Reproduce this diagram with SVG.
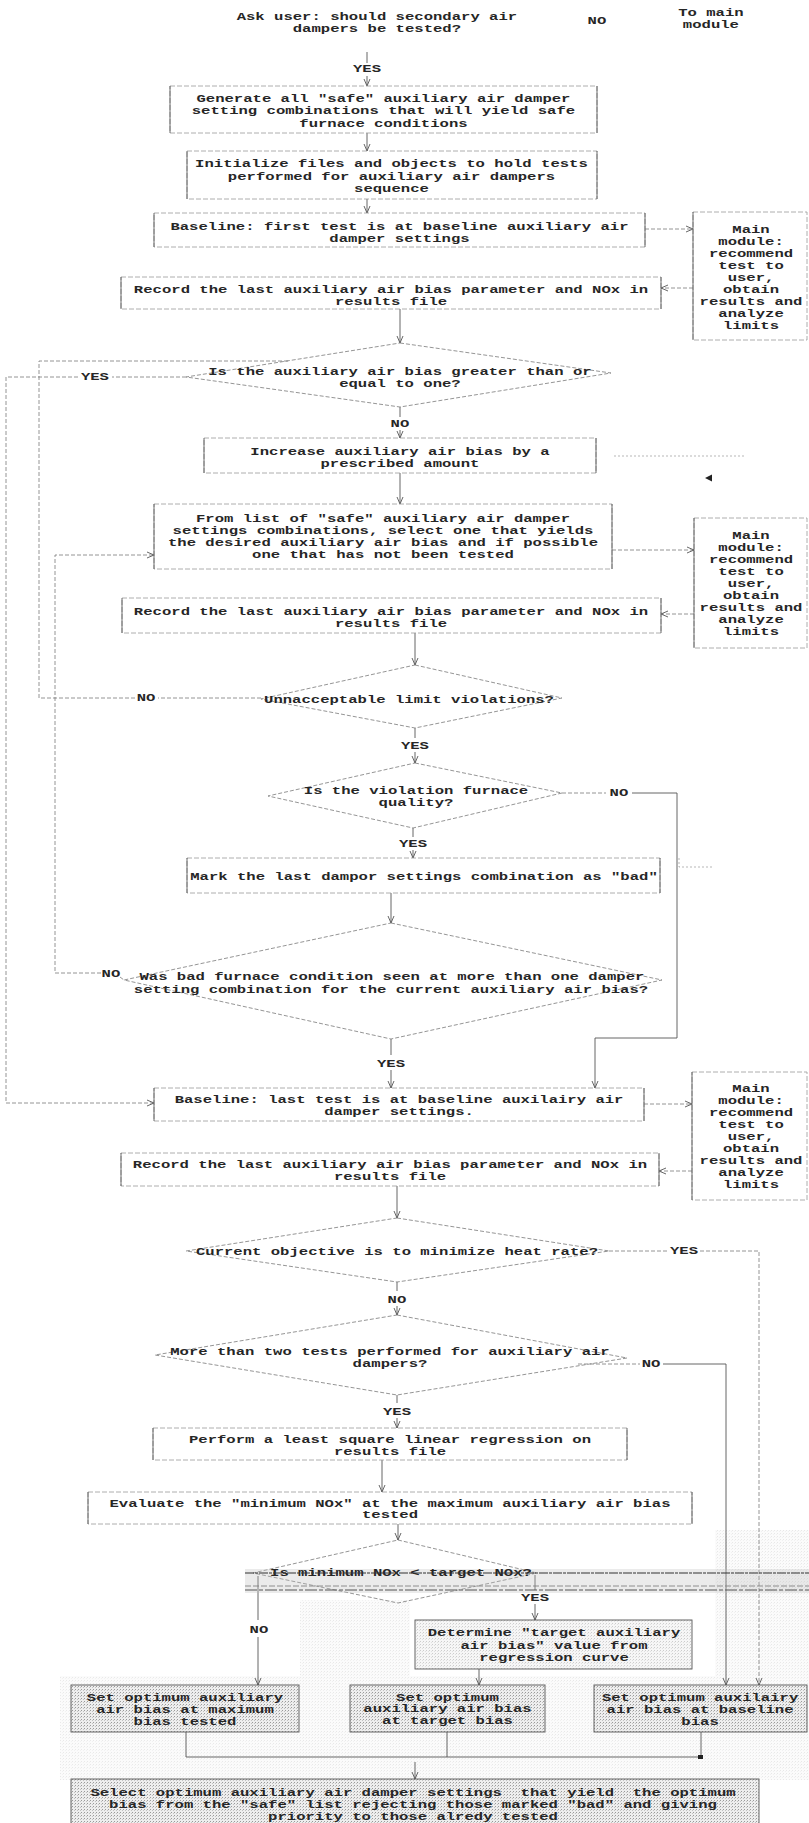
<svg xmlns="http://www.w3.org/2000/svg" width="809" height="1823" viewBox="0 0 809 1823">
<defs>
  <style>
    .t { font-family: "Liberation Mono", "Courier New", monospace; font-size: 10.5px; font-weight: bold; fill: #262626; text-anchor: middle; }
    .bx { fill: #ffffff; stroke: #9a9a9a; stroke-width: 0.8; stroke-dasharray: 5 2; }
    .sd { stroke: #5a5a5a; stroke-width: 0.9; fill: none; }
    .dm { fill: none; stroke: #7a7a7a; stroke-width: 0.8; stroke-dasharray: 4 2; }
    .cv { fill: none; stroke: #555555; stroke-width: 0.9; }
    .ch { fill: none; stroke: #7a7a7a; stroke-width: 0.8; stroke-dasharray: 4 2; }
    .gb { fill: url(#stip); stroke: #555555; stroke-width: 0.9; }
    .nz { fill: none; stroke: #9a9a9a; stroke-width: 0.7; stroke-dasharray: 2 2; }
  </style>
  <marker id="ah" markerWidth="9" markerHeight="8" refX="8" refY="4" orient="auto" markerUnits="userSpaceOnUse">
    <path d="M1,1 L8,4 L1,7" fill="none" stroke="#555" stroke-width="0.9"/>
  </marker>
  <pattern id="stip" width="3" height="3" patternUnits="userSpaceOnUse">
    <rect width="3" height="3" fill="#eeeeee"/>
    <rect x="0" y="0" width="1" height="1" fill="#9a9a9a"/>
    <rect x="2" y="1" width="1" height="1" fill="#c2c2c2"/>
  </pattern>
</defs>

<rect width="809" height="1823" fill="#ffffff"/>

<!-- halftone shading around the lower part of the chart -->
<g id="shading" opacity="0.22">
  <rect x="60" y="1676" width="749" height="104" fill="url(#stip)"/>
  <rect x="715" y="1530" width="94" height="146" fill="url(#stip)"/>
  <rect x="300" y="1600" width="110" height="76" fill="url(#stip)"/>
</g>

<!-- connectors -->
<g id="connectors">
  <!-- top question -> generate -->
  <line class="cv" x1="367" y1="52" x2="367" y2="63"/>
  <line class="cv" x1="367" y1="76" x2="367" y2="86" marker-end="url(#ah)"/>
  <line class="cv" x1="367" y1="133" x2="367" y2="151" marker-end="url(#ah)"/>
  <line class="cv" x1="367" y1="199" x2="367" y2="213" marker-end="url(#ah)"/>
  <!-- baseline -> main module -> record -->
  <line class="ch" x1="645" y1="229" x2="693" y2="229" marker-end="url(#ah)"/>
  <line class="ch" x1="693" y1="288" x2="661" y2="288" marker-end="url(#ah)"/>
  <line class="cv" x1="400" y1="309" x2="400" y2="343" marker-end="url(#ah)"/>
  <!-- bias >= 1 : YES loop to final baseline -->
  <polyline class="ch" points="186,377 112,377"/>
  <polyline class="ch" points="78,377 6,377 6,1103 154,1103" marker-end="url(#ah)"/>
  <!-- NO -->
  <line class="cv" x1="400" y1="407" x2="400" y2="417"/>
  <line class="cv" x1="400" y1="430" x2="400" y2="438" marker-end="url(#ah)"/>
  <line class="cv" x1="400" y1="473" x2="400" y2="504" marker-end="url(#ah)"/>
  <!-- select combination -> main module -> record -->
  <line class="ch" x1="612" y1="550" x2="694" y2="550" marker-end="url(#ah)"/>
  <line class="ch" x1="694" y1="614" x2="661" y2="614" marker-end="url(#ah)"/>
  <line class="cv" x1="415" y1="633" x2="415" y2="665" marker-end="url(#ah)"/>
  <!-- unacceptable violations : NO loop back to bias test -->
  <polyline class="ch" points="261,698 158,698"/>
  <polyline class="ch" points="135,698 39,698 39,361 289,361"/>
  <!-- YES -->
  <line class="cv" x1="415" y1="728" x2="415" y2="738"/>
  <line class="cv" x1="415" y1="752" x2="415" y2="763" marker-end="url(#ah)"/>
  <!-- furnace quality : NO -->
  <line class="ch" x1="562" y1="793" x2="606" y2="793"/>
  <polyline class="cv" points="632,793 677,793 677,1038 595,1038 595,1088" marker-end="url(#ah)"/>
  <!-- YES -->
  <line class="cv" x1="413" y1="828" x2="413" y2="837"/>
  <line class="cv" x1="413" y1="850" x2="413" y2="858" marker-end="url(#ah)"/>
  <line class="cv" x1="391" y1="893" x2="391" y2="923" marker-end="url(#ah)"/>
  <!-- bad condition seen more than once : NO loop -->
  <polyline class="ch" points="101,973 55,973 55,555 154,555" marker-end="url(#ah)"/>
  <line class="ch" x1="120" y1="977" x2="124" y2="980"/>
  <!-- YES -->
  <line class="cv" x1="391" y1="1039" x2="391" y2="1055"/>
  <line class="cv" x1="391" y1="1070" x2="391" y2="1088" marker-end="url(#ah)"/>
  <!-- last baseline -> main module -> record -->
  <line class="ch" x1="644" y1="1104" x2="692" y2="1104" marker-end="url(#ah)"/>
  <line class="ch" x1="692" y1="1171" x2="659" y2="1171" marker-end="url(#ah)"/>
  <line class="cv" x1="397" y1="1186" x2="397" y2="1218" marker-end="url(#ah)"/>
  <!-- heat rate objective : YES -->
  <line class="ch" x1="609" y1="1251" x2="668" y2="1251"/>
  <polyline class="ch" points="700,1251 759,1251 759,1685" marker-end="url(#ah)"/>
  <!-- NO -->
  <line class="cv" x1="397" y1="1282" x2="397" y2="1291"/>
  <line class="cv" x1="397" y1="1306" x2="397" y2="1315" marker-end="url(#ah)"/>
  <!-- more than two tests : NO -->
  <line class="ch" x1="578" y1="1364" x2="640" y2="1364"/>
  <polyline class="cv" points="663,1364 726,1364 726,1685" marker-end="url(#ah)"/>
  <!-- YES -->
  <line class="cv" x1="397" y1="1395" x2="397" y2="1403"/>
  <line class="cv" x1="397" y1="1418" x2="397" y2="1428" marker-end="url(#ah)"/>
  <line class="cv" x1="382" y1="1460" x2="382" y2="1492" marker-end="url(#ah)"/>
  <line class="cv" x1="398" y1="1524" x2="398" y2="1540" marker-end="url(#ah)"/>
  <!-- minimum NOx test : NO / YES -->
  <line class="cv" x1="258" y1="1576" x2="258" y2="1620"/>
  <line class="cv" x1="258" y1="1637" x2="258" y2="1685" marker-end="url(#ah)"/>
  <line class="cv" x1="535" y1="1575" x2="535" y2="1590"/>
  <line class="cv" x1="535" y1="1604" x2="535" y2="1620" marker-end="url(#ah)"/>
  <line class="cv" x1="479" y1="1669" x2="479" y2="1685" marker-end="url(#ah)"/>
  <!-- merge of the three optimum settings -->
  <polyline class="cv" points="186,1732 186,1757 701,1757"/>
  <line class="cv" x1="447" y1="1732" x2="447" y2="1757"/>
  <line class="cv" x1="701" y1="1732" x2="701" y2="1757"/>
  <rect x="698" y="1755" width="5" height="4" fill="#222"/>
  <line class="cv" x1="415" y1="1762" x2="415" y2="1779" marker-end="url(#ah)"/>
</g>

<!-- stray marks -->
<g id="marks">
  <line class="nz" x1="614" y1="456" x2="744" y2="456"/>
  <polygon points="705,478 712,474.5 712,481.5" fill="#222"/>
  <polyline class="nz" points="679,858 679,867 712,867"/>
</g>

<g id="ask-user">
  <text class="t" transform="scale(1.4857 1)" x="253.7" y="20">Ask user: should secondary air</text>
  <text class="t" transform="scale(1.4857 1)" x="253.7" y="32">dampers be tested?</text>
  <text class="t" transform="scale(1.4857 1)" x="401.8" y="24">NO</text>
  <text class="t" transform="scale(1.4857 1)" x="247.0" y="72">YES</text>
</g>

<g id="to-main-module">
  <text class="t" transform="scale(1.4857 1)" x="478.5" y="16">To main</text>
  <text class="t" transform="scale(1.4857 1)" x="478.5" y="28">module</text>
</g>

<g id="generate-combinations">
  <rect class="bx" x="170" y="86" width="427" height="47"/>
  <path class="sd" d="M170,86 V133 M597,86 V133"/>
  <text class="t" transform="scale(1.4857 1)" x="258.1" y="102">Generate all "safe" auxiliary air damper</text>
  <text class="t" transform="scale(1.4857 1)" x="258.1" y="114">setting combinations that will yield safe</text>
  <text class="t" transform="scale(1.4857 1)" x="258.1" y="127">furnace conditions</text>
</g>

<g id="initialize-files">
  <rect class="bx" x="187" y="151" width="410" height="48"/>
  <path class="sd" d="M187,151 V199 M597,151 V199"/>
  <text class="t" transform="scale(1.4857 1)" x="263.5" y="167">Initialize files and objects to hold tests</text>
  <text class="t" transform="scale(1.4857 1)" x="263.5" y="180">performed for auxiliary air dampers</text>
  <text class="t" transform="scale(1.4857 1)" x="263.5" y="192">sequence</text>
</g>

<g id="baseline-first">
  <rect class="bx" x="154" y="213" width="491" height="34"/>
  <path class="sd" d="M154,213 V247 M645,213 V247"/>
  <text class="t" transform="scale(1.4857 1)" x="268.9" y="230">Baseline: first test is at baseline auxiliary air</text>
  <text class="t" transform="scale(1.4857 1)" x="268.9" y="242">damper settings</text>
</g>

<g id="main-module-1">
  <rect class="bx" x="693" y="212" width="114" height="128"/>
  <path class="sd" d="M693,212 V340"/>
  <text class="t" transform="scale(1.4857 1)" x="505.5" y="233">Main</text>
  <text class="t" transform="scale(1.4857 1)" x="505.5" y="245">module:</text>
  <text class="t" transform="scale(1.4857 1)" x="505.5" y="257">recommend</text>
  <text class="t" transform="scale(1.4857 1)" x="505.5" y="269">test to</text>
  <text class="t" transform="scale(1.4857 1)" x="505.5" y="281">user,</text>
  <text class="t" transform="scale(1.4857 1)" x="505.5" y="293">obtain</text>
  <text class="t" transform="scale(1.4857 1)" x="505.5" y="305">results and</text>
  <text class="t" transform="scale(1.4857 1)" x="505.5" y="317">analyze</text>
  <text class="t" transform="scale(1.4857 1)" x="505.5" y="329">limits</text>
</g>

<g id="record-1">
  <rect class="bx" x="121" y="277" width="540" height="32"/>
  <path class="sd" d="M121,277 V309 M661,277 V309"/>
  <text class="t" transform="scale(1.4857 1)" x="263.2" y="293">Record the last auxiliary air bias parameter and NOx in</text>
  <text class="t" transform="scale(1.4857 1)" x="263.2" y="305">results file</text>
</g>

<g id="bias-ge-one">
  <polygon class="dm" points="400,343 611,373 400,407 186,377"/>
  <text class="t" transform="scale(1.4857 1)" x="269.2" y="375">Is the auxiliary air bias greater than or</text>
  <text class="t" transform="scale(1.4857 1)" x="269.2" y="387">equal to one?</text>
  <text class="t" transform="scale(1.4857 1)" x="63.9" y="380">YES</text>
  <text class="t" transform="scale(1.4857 1)" x="269.2" y="427">NO</text>
</g>

<g id="increase-bias">
  <rect class="bx" x="204" y="438" width="392" height="35"/>
  <path class="sd" d="M204,438 V473 M596,438 V473"/>
  <text class="t" transform="scale(1.4857 1)" x="269.2" y="455">Increase auxiliary air bias by a</text>
  <text class="t" transform="scale(1.4857 1)" x="269.2" y="467">prescribed amount</text>
</g>

<g id="select-combination">
  <rect class="bx" x="154" y="504" width="458" height="65"/>
  <path class="sd" d="M154,504 V569 M612,504 V569"/>
  <text class="t" transform="scale(1.4857 1)" x="257.8" y="522">From list of "safe" auxiliary air damper</text>
  <text class="t" transform="scale(1.4857 1)" x="257.8" y="534">settings combinations, select one that yields</text>
  <text class="t" transform="scale(1.4857 1)" x="257.8" y="546">the desired auxiliary air bias and if possible</text>
  <text class="t" transform="scale(1.4857 1)" x="257.8" y="558">one that has not been tested</text>
</g>

<g id="main-module-2">
  <rect class="bx" x="694" y="518" width="113" height="130"/>
  <path class="sd" d="M694,518 V648"/>
  <text class="t" transform="scale(1.4857 1)" x="505.5" y="539">Main</text>
  <text class="t" transform="scale(1.4857 1)" x="505.5" y="551">module:</text>
  <text class="t" transform="scale(1.4857 1)" x="505.5" y="563">recommend</text>
  <text class="t" transform="scale(1.4857 1)" x="505.5" y="575">test to</text>
  <text class="t" transform="scale(1.4857 1)" x="505.5" y="587">user,</text>
  <text class="t" transform="scale(1.4857 1)" x="505.5" y="599">obtain</text>
  <text class="t" transform="scale(1.4857 1)" x="505.5" y="611">results and</text>
  <text class="t" transform="scale(1.4857 1)" x="505.5" y="623">analyze</text>
  <text class="t" transform="scale(1.4857 1)" x="505.5" y="635">limits</text>
</g>

<g id="record-2">
  <rect class="bx" x="122" y="598" width="539" height="35"/>
  <path class="sd" d="M122,598 V633 M661,598 V633"/>
  <text class="t" transform="scale(1.4857 1)" x="263.2" y="615">Record the last auxiliary air bias parameter and NOx in</text>
  <text class="t" transform="scale(1.4857 1)" x="263.2" y="627">results file</text>
</g>

<g id="limit-violations">
  <polygon class="dm" points="415,665 562,698 415,728 261,699"/>
  <text class="t" transform="scale(1.4857 1)" x="275.3" y="703">Unnacceptable limit violations?</text>
  <text class="t" transform="scale(1.4857 1)" x="98.3" y="701">NO</text>
  <text class="t" transform="scale(1.4857 1)" x="279.3" y="749">YES</text>
</g>

<g id="furnace-quality">
  <polygon class="dm" points="415,763 562,793 413,828 268,796"/>
  <text class="t" transform="scale(1.4857 1)" x="280.0" y="794">Is the violation furnace</text>
  <text class="t" transform="scale(1.4857 1)" x="280.0" y="806">quality?</text>
  <text class="t" transform="scale(1.4857 1)" x="416.6" y="796">NO</text>
  <text class="t" transform="scale(1.4857 1)" x="278.0" y="847">YES</text>
</g>

<g id="mark-bad">
  <rect class="bx" x="187" y="858" width="473" height="35"/>
  <path class="sd" d="M187,858 V893 M660,858 V893"/>
  <text class="t" transform="scale(1.4857 1)" x="285.4" y="880">Mark the last dampor settings combination as "bad"</text>
</g>

<g id="bad-seen-twice">
  <polygon class="dm" points="391,923 662,980 391,1039 124,980"/>
  <text class="t" transform="scale(1.4857 1)" x="263.8" y="980">Was bad furnace condition seen at more than one damper</text>
  <text class="t" transform="scale(1.4857 1)" x="263.2" y="993">setting combination for the current auxiliary air bias?</text>
  <text class="t" transform="scale(1.4857 1)" x="74.7" y="977">NO</text>
  <text class="t" transform="scale(1.4857 1)" x="263.2" y="1067">YES</text>
</g>

<g id="baseline-last">
  <rect class="bx" x="154" y="1088" width="490" height="33"/>
  <path class="sd" d="M154,1088 V1121 M644,1088 V1121"/>
  <text class="t" transform="scale(1.4857 1)" x="268.6" y="1103">Baseline: last test is at baseline auxilairy air</text>
  <text class="t" transform="scale(1.4857 1)" x="268.6" y="1115">damper settings.</text>
</g>

<g id="main-module-3">
  <rect class="bx" x="692" y="1072" width="115" height="128"/>
  <path class="sd" d="M692,1072 V1200"/>
  <text class="t" transform="scale(1.4857 1)" x="505.5" y="1092">Main</text>
  <text class="t" transform="scale(1.4857 1)" x="505.5" y="1104">module:</text>
  <text class="t" transform="scale(1.4857 1)" x="505.5" y="1116">recommend</text>
  <text class="t" transform="scale(1.4857 1)" x="505.5" y="1128">test to</text>
  <text class="t" transform="scale(1.4857 1)" x="505.5" y="1140">user,</text>
  <text class="t" transform="scale(1.4857 1)" x="505.5" y="1152">obtain</text>
  <text class="t" transform="scale(1.4857 1)" x="505.5" y="1164">results and</text>
  <text class="t" transform="scale(1.4857 1)" x="505.5" y="1176">analyze</text>
  <text class="t" transform="scale(1.4857 1)" x="505.5" y="1188">limits</text>
</g>

<g id="record-3">
  <rect class="bx" x="121" y="1153" width="538" height="33"/>
  <path class="sd" d="M121,1153 V1186 M659,1153 V1186"/>
  <text class="t" transform="scale(1.4857 1)" x="262.5" y="1168">Record the last auxiliary air bias parameter and NOx in</text>
  <text class="t" transform="scale(1.4857 1)" x="262.5" y="1180">results file</text>
</g>

<g id="heat-rate-objective">
  <polygon class="dm" points="397,1218 609,1251 397,1282 186,1251"/>
  <text class="t" transform="scale(1.4857 1)" x="267.2" y="1255">Current objective is to minimize heat rate?</text>
  <text class="t" transform="scale(1.4857 1)" x="460.4" y="1254">YES</text>
  <text class="t" transform="scale(1.4857 1)" x="267.2" y="1303">NO</text>
</g>

<g id="two-tests">
  <polygon class="dm" points="397,1315 627,1358 397,1395 155,1355"/>
  <text class="t" transform="scale(1.4857 1)" x="262.5" y="1355">More than two tests performed for auxiliary air</text>
  <text class="t" transform="scale(1.4857 1)" x="262.5" y="1367">dampers?</text>
  <text class="t" transform="scale(1.4857 1)" x="438.2" y="1367">NO</text>
  <text class="t" transform="scale(1.4857 1)" x="267.2" y="1415">YES</text>
</g>

<g id="regression">
  <rect class="bx" x="153" y="1428" width="474" height="32"/>
  <path class="sd" d="M153,1428 V1460 M627,1428 V1460"/>
  <text class="t" transform="scale(1.4857 1)" x="262.5" y="1443">Perform a least square linear regression on</text>
  <text class="t" transform="scale(1.4857 1)" x="262.5" y="1455">results file</text>
</g>

<g id="evaluate-min-nox">
  <rect class="bx" x="88" y="1492" width="604" height="32"/>
  <path class="sd" d="M88,1492 V1524 M692,1492 V1524"/>
  <text class="t" transform="scale(1.4857 1)" x="262.5" y="1507">Evaluate the "minimum NOx" at the maximum auxiliary air bias</text>
  <text class="t" transform="scale(1.4857 1)" x="262.5" y="1518">tested</text>
</g>

<g id="min-nox-test">
  <polygon class="dm" points="398,1540 537,1573 398,1603 253,1573"/>
  <rect x="245" y="1569" width="564" height="24" fill="#bdbdbd" opacity="0.3"/>
  <text class="t" transform="scale(1.4857 1)" x="269.9" y="1576">Is minimum NOx &lt; target NOx?</text>
  <line x1="245" y1="1573" x2="809" y2="1573" stroke="#333" stroke-width="1.1" stroke-dasharray="9 1 3 1"/>
  <line x1="245" y1="1586" x2="809" y2="1586" stroke="#777" stroke-width="0.8" stroke-dasharray="6 2"/>
  <line x1="245" y1="1590" x2="809" y2="1590" stroke="#555" stroke-width="1" stroke-dasharray="12 2 4 2"/>
  <text class="t" transform="scale(1.4857 1)" x="174.3" y="1633">NO</text>
  <text class="t" transform="scale(1.4857 1)" x="360.1" y="1601">YES</text>
</g>

<g id="target-bias">
  <rect class="gb" x="415" y="1620" width="277" height="49" style="fill-opacity:0.5"/>
  <text class="t" transform="scale(1.4857 1)" x="372.9" y="1636">Determine "target auxiliary</text>
  <text class="t" transform="scale(1.4857 1)" x="372.9" y="1649">air bias" value from</text>
  <text class="t" transform="scale(1.4857 1)" x="372.9" y="1661">regression curve</text>
</g>

<g id="set-max-bias">
  <rect class="gb" x="71" y="1685" width="228" height="47"/>
  <text class="t" transform="scale(1.4857 1)" x="124.5" y="1701">Set optimum auxiliary</text>
  <text class="t" transform="scale(1.4857 1)" x="124.5" y="1713">air bias at maximum</text>
  <text class="t" transform="scale(1.4857 1)" x="124.5" y="1725">bias tested</text>
</g>

<g id="set-target-bias">
  <rect class="gb" x="350" y="1685" width="195" height="47"/>
  <text class="t" transform="scale(1.4857 1)" x="301.2" y="1701">Set optimum</text>
  <text class="t" transform="scale(1.4857 1)" x="301.2" y="1712">auxiliary air bias</text>
  <text class="t" transform="scale(1.4857 1)" x="301.2" y="1724">at target bias</text>
</g>

<g id="set-baseline-bias">
  <rect class="gb" x="594" y="1685" width="213" height="47"/>
  <text class="t" transform="scale(1.4857 1)" x="471.2" y="1701">Set optimum auxilairy</text>
  <text class="t" transform="scale(1.4857 1)" x="471.2" y="1713">air bias at baseline</text>
  <text class="t" transform="scale(1.4857 1)" x="471.2" y="1725">bias</text>
</g>

<g id="select-optimum-settings">
  <rect class="gb" x="71" y="1779" width="688" height="50"/>
  <text class="t" transform="scale(1.4857 1)" x="278.0" y="1796" xml:space="preserve">Select optimum auxiliary air damper settings  that yield  the optimum</text>
  <text class="t" transform="scale(1.4857 1)" x="278.0" y="1808">bias from the "safe" list rejecting those marked "bad" and giving</text>
  <text class="t" transform="scale(1.4857 1)" x="278.0" y="1820">priority to those alredy tested</text>
</g>
</svg>
